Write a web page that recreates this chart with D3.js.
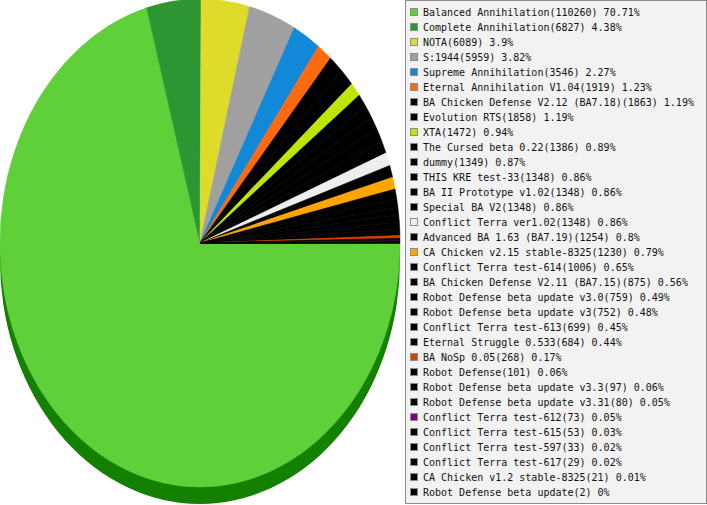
<!DOCTYPE html>
<html>
<head>
<meta charset="utf-8">
<script src="https://cdn.jsdelivr.net/npm/d3@7"></script>
<style>
  body { margin: 0; background: #fff; }
  text { font-family: "DejaVu Sans Mono", monospace; font-size: 10px; fill: #111; }
</style>
</head>
<body>
<div id="chart"></div>
<script>
// Mod names and game counts, in legend order
const mods = [
    "Balanced Annihilation", "Complete Annihilation", "NOTA", "S:1944",
    "Supreme Annihilation", "Eternal Annihilation V1.04", "BA Chicken Defense V2.12 (BA7.18)",
    "Evolution RTS", "XTA", "The Cursed beta 0.22", "dummy", "THIS KRE test-33",
    "BA II Prototype v1.02", "Special BA V2", "Conflict Terra ver1.02",
    "Advanced BA 1.63 (BA7.19)", "CA Chicken v2.15 stable-8325", "Conflict Terra test-614",
    "BA Chicken Defense V2.11 (BA7.15)", "Robot Defense beta update v3.0",
    "Robot Defense beta update v3", "Conflict Terra test-613", "Eternal Struggle 0.533",
    "BA NoSp 0.05", "Robot Defense", "Robot Defense beta update v3.3",
    "Robot Defense beta update v3.31", "Conflict Terra test-612", "Conflict Terra test-615",
    "Conflict Terra test-597", "Conflict Terra test-617", "CA Chicken v1.2 stable-8325",
    "Robot Defense beta update"
];
const games = [
    110260, 6827, 6089, 5959, 3546, 1919, 1863, 1858, 1472, 1386, 1349, 1348,
    1348, 1348, 1348, 1254, 1230, 1006, 875, 759, 752, 699, 684, 268, 101, 97,
    80, 73, 53, 33, 29, 21, 2
];

// slice colours (same order as above)
const palette = [
    "#5fcf3a", "#2e9533", "#dedb2a", "#a0a0a0", "#1188d8", "#ff6a10", "#000000",
    "#000000", "#bde600", "#000000", "#000000", "#000000", "#000000", "#000000",
    "#eeeeee", "#000000", "#ffa500", "#000000", "#000000", "#000000", "#000000",
    "#000000", "#000000", "#e03c00", "#000000", "#000000", "#000000", "#800080",
    "#000000", "#000000", "#000000", "#000000", "#000000"
];
const rimColor = "#138000";

const width = 707, height = 505;
const cx = 200, cy = 243;
const rx = 200, ry = 244, depth = 17;

const total = d3.sum(games);
const data = mods.map((m, i) => ({ name: m, value: games[i], color: palette[i] }));

const svg = d3.select("#chart")
    .append("svg")
    .attr("width", width)
    .attr("height", height);

// start at 3 o'clock, go clockwise
const pie = d3.pie()
    .sort(null)
    .value((d) => d.value)
    .startAngle(Math.PI / 2)
    .endAngle(Math.PI / 2 + 2 * Math.PI);

const arc = d3.arc().innerRadius(0).outerRadius(rx);
const slices = pie(data);

// side of the pie, only the front half shows
svg.append("clipPath")
    .attr("id", "front")
    .append("rect")
    .attr("x", 0)
    .attr("y", cy)
    .attr("width", width)
    .attr("height", height - cy);

svg.append("g")
    .attr("clip-path", "url(#front)")
    .append("g")
    .attr("transform", `translate(${cx},${cy + depth}) scale(1,${ry / rx})`)
    .selectAll("path")
    .data(slices)
    .enter()
    .append("path")
    .attr("d", arc)
    .attr("fill", (d, i) => i === 0 ? rimColor : d3.color(d.data.color).darker(1.2));

// top face (thin same-colour stroke hides the seams between slices)
svg.append("g")
    .attr("transform", `translate(${cx},${cy}) scale(1,${ry / rx})`)
    .selectAll("path")
    .data(slices)
    .enter()
    .append("path")
    .attr("d", arc)
    .attr("fill", (d) => d.data.color)
    .attr("stroke", (d) => d.data.color)
    .attr("stroke-width", 0.6)
    .attr("stroke-linejoin", "bevel")
    .attr("vector-effect", "non-scaling-stroke");

// legend
const legend = svg.append("g");

legend.append("rect")
    .attr("x", 405.5)
    .attr("y", 0.5)
    .attr("width", 301)
    .attr("height", 503)
    .attr("fill", "#f2f2f2")
    .attr("stroke", "#8c8c8c");

const rows = legend.selectAll(".row")
    .data(data)
    .enter()
    .append("g")
    .attr("class", "row")
    .attr("transform", (d, i) => `translate(0,${12 + i * 15})`);

rows.append("rect")
    .attr("x", 410.5)
    .attr("y", -3.5)
    .attr("width", 7)
    .attr("height", 7)
    .attr("fill", (d) => d.color)
    .attr("stroke", "#8c8c8c");

rows.append("text")
    .attr("x", 423)
    .attr("dy", "0.36em")
    .text((d) => `${d.name}(${d.value}) ${+(d.value / total * 100).toFixed(2)}%`);
</script>
</body>
</html>
